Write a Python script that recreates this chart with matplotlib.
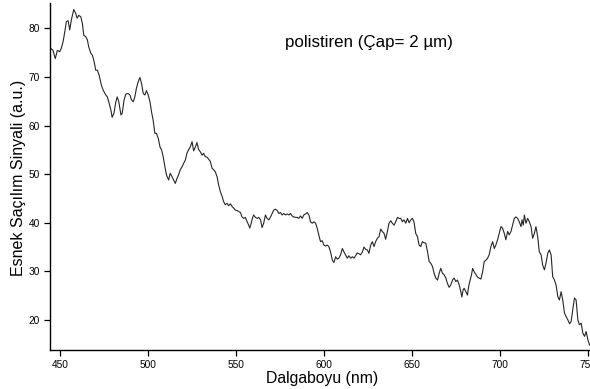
import matplotlib
matplotlib.use("Agg")
import matplotlib.pyplot as plt

# elastic scattering spectrum of a 2 um polystyrene sphere
wavelength = [
    444.7, 446.0, 447.3, 448.5, 449.8, 450.7, 451.7, 452.7, 453.6, 454.6,
    455.5, 456.4, 457.8, 458.9, 459.7, 460.6, 461.8, 462.7, 463.5, 464.6,
    465.5, 466.3, 467.5, 468.4, 469.4, 470.3, 471.2, 472.2, 473.5, 474.5,
    476.0, 476.9, 477.9, 478.9, 479.6, 480.6, 481.7, 482.5, 483.4, 484.6,
    485.3, 486.4, 487.4, 488.7, 489.7, 490.6, 491.6, 492.5, 493.4, 494.4,
    495.4, 496.3, 497.3, 498.2, 499.1, 500.1, 501.1, 502.0, 502.9, 503.9,
    504.8, 505.8, 506.8, 507.7, 508.6, 509.6, 510.5, 511.7, 512.6, 513.6,
    514.5, 515.5, 516.4, 517.3, 518.3, 519.3, 520.2, 521.2, 522.1, 523.0,
    524.0, 525.0, 525.9, 526.9, 527.8, 528.7, 529.7, 530.7, 531.6, 532.5,
    533.5, 534.4, 535.4, 536.4, 537.3, 538.2, 539.2, 540.1, 541.1, 542.1,
    543.0, 543.9, 544.9, 545.8, 546.8, 547.8, 548.7, 549.6, 550.6, 551.5,
    552.5, 553.4, 554.4, 555.3, 556.3, 557.2, 557.8, 558.6, 559.3, 560.0,
    561.0, 562.0, 562.9, 563.9, 564.8, 565.7, 566.7, 567.6, 568.6, 569.6,
    570.5, 571.4, 572.4, 573.4, 574.3, 575.2, 576.2, 577.1, 578.1, 579.1,
    580.0, 580.9, 581.9, 582.8, 583.8, 584.8, 585.7, 586.6, 587.6, 588.5,
    589.5, 590.4, 591.4, 592.3, 593.3, 594.2, 595.2, 596.1, 597.0, 598.0,
    599.0, 599.9, 600.9, 601.8, 602.7, 603.7, 604.7, 605.6, 606.6, 607.5,
    608.4, 609.4, 610.4, 611.3, 612.2, 613.2, 614.1, 615.1, 616.1, 617.0,
    617.9, 618.9, 619.8, 620.8, 621.8, 622.7, 623.7, 624.6, 625.5, 626.5,
    627.4, 628.4, 629.3, 630.3, 631.2, 632.2, 633.1, 634.1, 635.0, 636.0,
    636.9, 637.9, 638.8, 639.8, 640.7, 641.7, 642.6, 643.6, 644.5, 645.4,
    646.4, 647.4, 648.3, 649.3, 650.2, 651.1, 652.1, 653.1, 654.0, 654.9,
    655.9, 656.8, 657.8, 658.8, 659.7, 660.6, 661.6, 662.5, 663.5, 664.5,
    665.4, 666.3, 667.3, 668.2, 669.2, 670.1, 671.1, 672.0, 673.0, 673.9,
    674.9, 675.8, 676.8, 677.7, 678.3, 679.0, 679.6, 680.6, 681.5, 682.1,
    682.8, 683.8, 684.4, 685.3, 686.3, 687.2, 688.1, 689.1, 690.1, 691.0,
    692.0, 692.9, 693.8, 694.8, 695.8, 696.7, 697.6, 698.6, 699.5, 700.5,
    701.4, 702.4, 703.3, 704.3, 705.2, 706.2, 707.1, 708.1, 709.0, 710.0,
    710.9, 711.9, 712.5, 713.2, 713.8, 714.7, 715.7, 716.6, 717.6, 718.5,
    719.5, 720.4, 721.4, 722.3, 723.3, 724.2, 725.2, 726.1, 727.1, 728.0,
    729.0, 729.9, 730.9, 731.8, 732.8, 733.7, 734.7, 735.6, 736.6, 737.5,
    738.5, 739.5, 740.4, 741.3, 742.3, 743.2, 744.2, 745.1, 746.1, 747.0,
    748.0, 748.9, 749.9, 750.8, 751.7,
]
signal = [
    75.9, 75.5, 73.8, 75.5, 75.2, 75.9, 77.2, 79.3, 81.4, 81.6,
    79.7, 81.7, 83.9, 83.1, 82.1, 82.7, 82.4, 81.0, 78.6, 78.3,
    77.7, 76.2, 74.9, 74.5, 73.1, 71.4, 71.4, 70.4, 68.3, 67.3,
    66.3, 65.9, 64.6, 63.2, 61.7, 62.5, 64.9, 65.9, 64.9, 62.2,
    62.5, 65.3, 66.5, 66.6, 66.3, 65.3, 64.9, 65.9, 67.7, 69.0,
    69.9, 68.7, 66.6, 66.3, 67.2, 66.3, 64.9, 62.8, 61.1, 58.4,
    58.4, 57.4, 55.6, 55.0, 53.6, 51.5, 49.8, 48.8, 50.2, 49.5,
    48.8, 48.1, 49.1, 49.8, 50.9, 51.5, 52.2, 52.9, 54.3, 55.0,
    55.6, 56.7, 54.8, 55.6, 56.5, 55.1, 54.6, 53.9, 54.3, 53.6,
    53.5, 53.1, 52.6, 51.2, 50.9, 50.5, 49.5, 47.8, 46.4, 45.4,
    44.3, 43.7, 44.0, 43.5, 43.9, 43.3, 43.0, 42.6, 42.5, 42.3,
    42.1, 41.2, 40.9, 41.1, 40.2, 39.5, 38.9, 39.9, 40.9, 41.6,
    41.1, 40.9, 41.1, 40.6, 39.0, 39.9, 41.6, 40.9, 40.6, 41.2,
    41.9, 42.6, 42.8, 42.5, 41.9, 42.1, 41.6, 41.9, 41.6, 41.8,
    41.6, 41.9, 41.4, 41.2, 41.1, 41.1, 40.9, 41.4, 40.9, 41.6,
    41.8, 42.1, 41.6, 40.2, 39.9, 40.2, 39.9, 38.9, 37.5, 36.1,
    36.3, 35.4, 35.2, 35.4, 35.1, 34.0, 32.3, 31.8, 33.0, 32.5,
    32.7, 33.4, 34.7, 34.0, 33.4, 32.7, 33.2, 32.7, 33.0, 32.7,
    33.2, 33.8, 33.6, 33.4, 34.0, 35.0, 34.5, 34.4, 33.7, 35.4,
    36.1, 35.1, 36.1, 36.8, 37.1, 38.7, 38.2, 37.8, 36.6, 38.2,
    39.9, 40.4, 39.9, 39.5, 40.2, 41.1, 40.9, 40.9, 40.2, 40.6,
    39.9, 40.9, 40.0, 40.6, 40.9, 40.2, 37.8, 37.1, 35.4, 35.1,
    36.1, 35.9, 35.8, 34.0, 32.0, 31.7, 31.0, 29.6, 28.6, 28.2,
    29.6, 30.6, 29.6, 29.3, 28.6, 27.5, 26.7, 27.2, 28.2, 28.6,
    27.9, 28.2, 27.2, 25.8, 24.7, 26.2, 26.5, 25.8, 25.1, 26.8,
    27.9, 29.3, 30.6, 29.9, 29.3, 28.8, 28.6, 28.4, 29.9, 32.0,
    32.3, 32.7, 33.4, 35.1, 36.1, 34.7, 35.4, 36.5, 37.8, 39.2,
    38.9, 37.8, 36.5, 38.2, 37.5, 38.2, 39.5, 40.9, 41.2, 40.9,
    40.2, 39.2, 40.6, 39.5, 41.6, 39.9, 40.9, 40.2, 39.2, 36.8,
    37.8, 39.2, 37.1, 34.0, 33.4, 31.3, 30.3, 31.7, 33.7, 34.4,
    33.4, 28.9, 28.2, 27.2, 24.8, 24.1, 25.8, 24.1, 21.4, 20.7,
    20.0, 19.2, 19.7, 22.1, 24.5, 24.1, 20.0, 19.0, 19.3, 17.3,
    16.6, 17.6, 15.9, 14.9, 14.5,
]

x_ticks = [450, 500, 550, 600, 650, 700, 750]
y_ticks = [20, 30, 40, 50, 60, 70, 80]

plt.rcParams['font.family'] = ['Liberation Sans', 'DejaVu Sans']

fig = plt.figure(figsize=(5.9, 3.89), dpi=100)
ax = fig.add_axes([50 / 590, 1 - 350 / 389, 540 / 590, 347.3 / 389])

ax.plot(wavelength, signal, color='#262626', linewidth=0.8)

ax.set_xlim(444.3, 751.1)
ax.set_ylim(13.8, 85.3)
ax.set_xticks(x_ticks)
ax.set_yticks(y_ticks)

for side in ('top', 'right'):
    ax.spines[side].set_visible(False)
for side in ('left', 'bottom'):
    ax.spines[side].set_linewidth(1.0)

ax.tick_params(axis='both', direction='out', length=4.5, width=0.9,
               labelsize=7.3, colors='black', pad=3)

ax.set_xlabel('Dalgaboyu (nm)', fontsize=11.3)
ax.xaxis.label.set_verticalalignment('center')
ax.xaxis.set_label_coords(0.504, -0.083)

ax.set_ylabel('Esnek Saçılım Sinyali (a.u.)', fontsize=11.5)
ax.yaxis.label.set_verticalalignment('center')
ax.yaxis.set_label_coords(-0.058, 0.497)

ax.text(0.435, 0.885, 'polistiren (Çap= 2 µm)', transform=ax.transAxes,
        fontsize=12.2, va='center', ha='left')

fig.savefig('out.png', dpi=100)
